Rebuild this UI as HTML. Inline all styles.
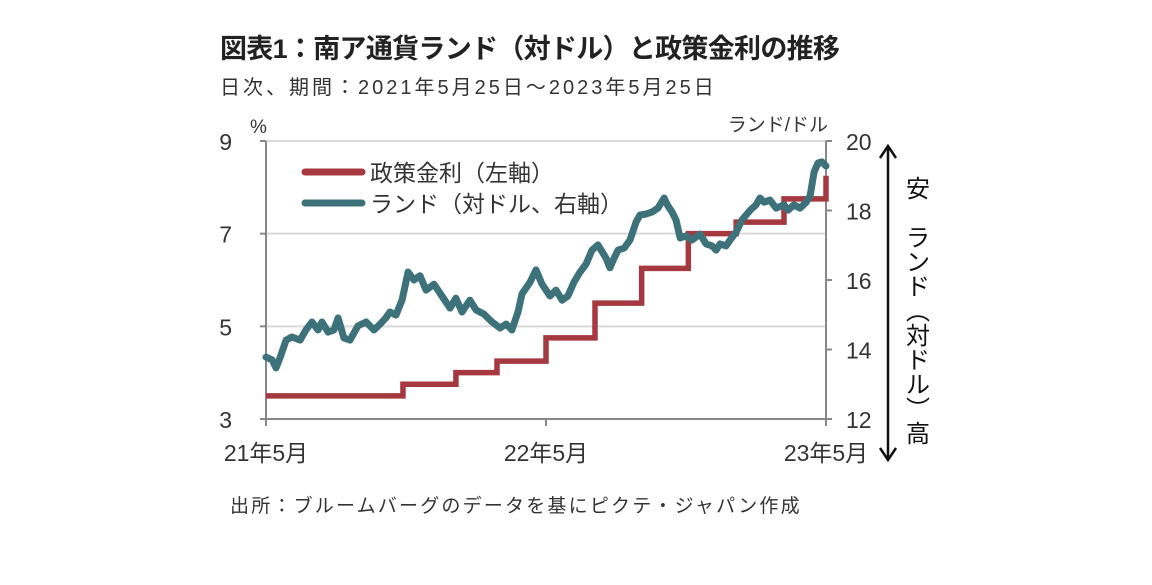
<!DOCTYPE html>
<html><head><meta charset="utf-8">
<style>
body{margin:0;width:1152px;height:580px;background:#fff;overflow:hidden;font-family:"Liberation Sans","Noto Sans CJK JP",sans-serif;color:#222}
svg text{font-family:"Liberation Sans","Noto Sans CJK JP",sans-serif}
</style></head><body>
<svg width="1152" height="580">
<text x="220" y="58" font-size="27" font-weight="bold" fill="#222" letter-spacing="-0.7">図表1：南ア通貨ランド（対ドル）と政策金利の推移</text>
<text x="220" y="94" font-size="20" fill="#333" letter-spacing="3">日次、期間：2021年5月25日～2023年5月25日</text>
<text x="230" y="512" font-size="19" fill="#333" letter-spacing="2.2">出所：ブルームバーグのデータを基にピクテ・ジャパン作成</text>
<g id="plot"></g>
</svg>
<script>
const leftTicks=[3,5,7,9];
const rightTicks=[12,14,16,18,20];
const xTickLabels=["21年5月","22年5月","23年5月"];
const xTickMonths=[0,12,24];
const rateMonths=[0,5.87,8.14,9.9,12.0,14.1,16.1,18.1,20.15,22.2,24.0];
const rateValues=[3.5,3.75,4.0,4.25,4.75,5.5,6.25,7.0,7.25,7.75,8.25];
const randMonths=[0,.26,.43,.60,.86,1.11,1.46,1.71,1.97,2.23,2.40,2.66,2.91,3.09,3.34,3.60,3.94,4.29,4.63,4.89,5.14,5.31,5.57,5.83,6.09,6.34,6.60,6.86,7.20,7.54,7.89,8.14,8.40,8.74,9.00,9.34,9.69,10.03,10.29,10.54,10.80,10.97,11.32,11.57,11.83,12.17,12.43,12.69,12.94,13.20,13.46,13.72,13.97,14.23,14.57,14.74,14.92,15.09,15.35,15.60,15.86,16.03,16.29,16.55,16.80,17.06,17.23,17.40,17.57,17.75,18.00,18.26,18.60,18.86,19.12,19.29,19.46,19.72,19.89,20.15,20.40,20.75,21.00,21.17,21.35,21.60,21.86,22.20,22.37,22.63,22.89,23.15,23.32,23.49,23.66,23.83,24.0];
const randValues=[13.78,13.70,13.47,13.76,14.27,14.36,14.27,14.56,14.79,14.56,14.79,14.50,14.56,14.91,14.33,14.27,14.68,14.79,14.56,14.73,14.91,15.08,14.99,15.42,16.23,16.00,16.12,15.71,15.88,15.54,15.19,15.48,15.08,15.42,15.14,15.02,14.79,14.62,14.73,14.56,15.08,15.60,15.94,16.29,15.88,15.54,15.71,15.42,15.54,15.94,16.23,16.46,16.86,17.01,16.63,16.35,16.63,16.86,16.92,17.15,17.67,17.87,17.90,17.96,18.07,18.36,18.13,17.96,17.73,17.21,17.27,17.15,17.32,17.04,16.98,16.86,17.04,16.98,17.15,17.38,17.73,18.01,18.16,18.36,18.24,18.30,18.07,18.16,18.01,18.16,18.07,18.24,18.42,19.11,19.37,19.40,19.28];
const X0=266,X1=826,YT=141,YB=419;
const xs=m=>X0+(X1-X0)*m/24;
const yl=v=>YB-(YB-YT)*(v-3)/6;
const yr=v=>YB-(YB-YT)*(v-12)/8;
const NS="http://www.w3.org/2000/svg";
const g=document.getElementById('plot');
function mk(t,a){const e=document.createElementNS(NS,t);for(const k in a)e.setAttribute(k,a[k]);g.appendChild(e);return e;}
leftTicks.forEach(v=>{
 if(v>3){const l=mk('line',{x1:X0,x2:X1,y1:yl(v),y2:yl(v),stroke:'#d9d9d9','stroke-width':2});
 
 }
 const t=mk('text',{x:X0-34,y:yl(v)+9,'font-size':23,fill:'#333','text-anchor':'end'});t.textContent=v;
 
 
 mk('line',{x1:X0-6,x2:X0,y1:yl(v),y2:yl(v),stroke:'#888','stroke-width':2});
});
rightTicks.forEach(v=>{
 mk('line',{x1:X1,x2:X1+6,y1:yr(v),y2:yr(v),stroke:'#888','stroke-width':2});
 const t=mk('text',{x:X1+20,y:yr(v)+9,'font-size':23,fill:'#333'});t.textContent=v;
 
 
});
xTickMonths.forEach((m,i)=>{
 mk('line',{x1:xs(m),x2:xs(m),y1:YB,y2:YB+7,stroke:'#888','stroke-width':2});
 const t=mk('text',{x:xs(m),y:YB+42,'font-size':23,fill:'#333','text-anchor':'middle'});t.textContent=xTickLabels[i];
 
 
});
let a=mk('line',{x1:X0,x2:X0,y1:YT,y2:YB,stroke:'#888','stroke-width':2});

a=mk('line',{x1:X1,x2:X1,y1:YT,y2:YB,stroke:'#888','stroke-width':2});

a=mk('line',{x1:X0,x2:X1,y1:YB,y2:YB,stroke:'#888','stroke-width':2});

let t=mk('text',{x:250,y:133,'font-size':19,fill:'#333'});t.textContent='%';

t=mk('text',{x:828,y:131,'font-size':19,fill:'#333','text-anchor':'end'});t.textContent='ランド/ドル';

let d='M'+xs(rateMonths[0])+','+yl(rateValues[0]);
for(let i=1;i<rateMonths.length;i++){d+=' H'+xs(rateMonths[i])+' V'+yl(rateValues[i]);}
let p=mk('path',{d:d,fill:'none',stroke:'#a5393f','stroke-width':5.5});

d='';randMonths.forEach((m,i)=>{d+=(i?' L':'M')+xs(m).toFixed(1)+','+yr(randValues[i]).toFixed(1);});
p=mk('path',{d:d,fill:'none',stroke:'#3e727a','stroke-width':7,'stroke-linejoin':'round','stroke-linecap':'round'});

p=mk('line',{x1:305,x2:362,y1:172,y2:172,stroke:'#a5393f','stroke-width':7,'stroke-linecap':'round'});

t=mk('text',{x:370,y:181,'font-size':23,fill:'#333'});t.textContent='政策金利（左軸）';

p=mk('line',{x1:305,x2:362,y1:203,y2:203,stroke:'#3e727a','stroke-width':7,'stroke-linecap':'round'});

t=mk('text',{x:370,y:212,'font-size':23,fill:'#333'});t.textContent='ランド（対ドル、右軸）';

p=mk('path',{d:'M888,148 V458 M880,158 L888,146 L896,158 M880,448 L888,460 L896,448',fill:'none',stroke:'#111','stroke-width':2.5});

const vlab=['安','','ラ','ン','ド','︵','対','ド','ル','︶','高'];
vlab.forEach((c,i)=>{if(!c)return;const e=mk('text',{x:918,y:197+i*24.5,'font-size':24,fill:'#111','text-anchor':'middle'});e.textContent=c;
 
 });
</script>
</body></html>
